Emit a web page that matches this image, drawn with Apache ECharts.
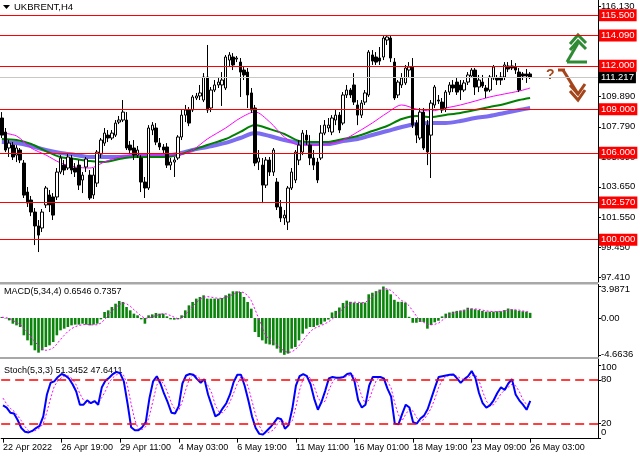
<!DOCTYPE html>
<html><head><meta charset="utf-8">
<script src="https://cdn.jsdelivr.net/npm/echarts@6/dist/echarts.min.js"></script>
<style>html,body{margin:0;padding:0;background:#fff}#c{width:640px;height:457px}</style>
</head><body><div id="c"></div>
<script>
const symbolName = 'UKBRENT,H4';
// [open, close, low, high]
const candles = [
[108.40,107.22,107.02,108.81],[107.43,106.19,106.05,107.71],[106.33,106.67,105.71,106.88],[106.53,105.71,105.50,106.74],[105.84,106.33,105.36,106.53],
[106.19,105.50,105.29,106.33],[105.29,103.08,102.88,105.50],[103.29,102.53,102.26,103.64],[102.74,101.91,101.63,103.02],[101.91,100.95,99.63,102.19],
[100.95,100.32,99.15,101.36],[100.81,101.91,100.53,102.12],[102.40,103.57,102.19,103.71],[103.09,102.40,101.91,103.43],[102.95,101.70,101.36,103.22],
[102.95,104.67,102.74,104.95],[104.67,105.64,104.53,105.84],[105.15,104.81,104.46,105.50],[104.95,105.71,104.81,105.98],[105.64,104.81,104.53,105.84],
[104.95,104.67,104.33,105.29],[105.15,103.77,103.43,105.50],[104.12,104.46,103.22,104.67],[105.02,105.57,104.67,105.71],[104.46,102.88,102.74,104.81],
[103.09,104.46,102.81,104.95],[103.91,106.05,103.64,106.19],[105.91,106.88,105.64,107.02],[106.67,107.36,106.47,107.71],[107.22,107.02,106.74,107.57],
[107.02,107.36,106.88,107.57],[107.22,108.05,107.09,108.26],[108.12,108.26,107.98,108.54],[108.26,108.81,108.12,109.64],[108.26,106.33,106.19,108.81],
[106.53,106.19,105.91,106.81],[106.33,105.84,105.50,106.88],[105.84,106.19,105.64,106.47],[105.64,103.98,103.29,105.84],[103.98,103.57,102.88,104.33],
[103.57,107.71,103.43,107.91],[107.57,107.91,107.22,108.12],[107.71,106.74,106.53,108.05],[106.67,106.40,106.19,107.02],[106.40,106.19,105.98,106.60],
[106.40,105.15,104.95,106.67],[105.15,105.36,104.81,105.64],[105.36,105.50,104.33,105.71],[105.64,107.09,105.50,107.22],[107.09,108.60,106.88,108.95],
[108.60,108.95,108.12,109.30],[108.95,108.05,107.84,109.16],[108.95,109.85,108.81,109.99],[109.78,109.92,109.64,110.13],[109.92,110.13,109.64,110.68],
[109.64,111.23,109.50,111.50],[111.23,108.95,108.75,113.44],[109.09,110.33,108.81,110.54],[110.33,110.68,110.19,111.02],[110.68,110.88,110.47,111.16],
[110.68,111.02,109.23,111.57],[110.47,112.61,110.33,112.75],[112.40,112.75,111.92,112.95],[112.61,112.06,111.71,112.88],[112.47,112.54,112.26,112.68],
[112.26,111.57,109.85,112.54],[111.71,111.37,111.02,111.99],[111.57,109.99,109.09,111.85],[110.13,108.95,108.75,110.47],[109.09,105.29,105.08,109.30],
[105.36,105.64,104.81,106.19],[105.15,103.77,102.53,105.64],[103.77,105.50,103.57,105.71],[105.50,104.67,104.40,105.71],[104.67,106.19,104.40,106.33],
[103.98,102.26,102.05,104.26],[102.26,101.50,101.22,102.74],[101.50,101.70,101.02,102.05],[101.22,103.57,100.67,103.71],[103.57,104.67,103.43,104.95],
[104.12,106.05,103.91,106.19],[105.50,106.53,105.15,106.88],[106.05,107.36,105.84,107.57],[107.22,106.88,106.53,107.57],[106.53,105.64,105.15,107.22],
[105.64,105.15,104.81,106.19],[105.36,104.12,103.91,105.64],[105.64,107.36,105.50,107.91],[107.36,107.91,107.22,108.26],[107.71,107.91,107.43,108.40],
[107.43,108.40,107.22,108.60],[108.26,108.60,107.91,108.95],[108.60,107.57,107.36,108.81],[108.05,109.99,107.91,110.19],[109.99,110.33,109.78,110.68],
[110.33,109.99,109.78,110.47],[110.68,109.50,109.30,111.50],[109.30,108.60,107.91,109.64],[108.60,109.43,108.40,109.64],[109.50,110.13,109.30,110.33],
[109.99,112.95,109.85,113.09],[112.75,112.33,112.06,113.09],[112.61,112.26,112.06,112.95],[112.54,112.33,112.06,113.30],[112.61,113.92,112.40,114.06],
[113.78,113.99,113.44,114.13],[113.92,112.54,112.26,114.06],[112.26,109.78,109.64,112.54],[109.99,110.88,109.78,111.02],[110.68,111.16,110.47,111.50],
[110.82,111.85,110.68,112.06],[111.71,111.92,111.16,112.26],[111.92,107.91,107.71,112.54],[108.05,107.22,106.67,108.26],[107.02,108.81,106.88,109.09],
[108.81,106.33,106.19,109.09],[107.91,106.05,105.15,108.26],[107.22,109.43,104.26,109.64],[109.30,110.54,109.09,110.68],[109.64,109.57,109.37,109.99],
[109.50,108.95,108.75,109.78],[109.09,110.19,108.81,110.33],[110.19,110.68,109.99,110.88],[110.68,110.47,110.19,111.02],[110.88,110.19,109.99,111.16],
[110.68,110.33,109.64,111.02],[110.33,110.82,110.19,111.02],[110.88,111.37,110.68,111.57],[111.30,111.71,111.16,111.85],[111.71,110.54,109.99,111.85],
[110.54,111.02,110.19,111.37],[110.88,110.61,110.47,111.37],[110.47,110.26,109.78,110.68],[110.33,111.23,110.19,111.37],[111.16,111.92,111.02,112.06],
[111.16,111.02,110.68,111.37],[111.23,111.02,110.68,111.57],[111.23,112.06,111.02,112.26],[111.99,111.78,111.57,112.26],[111.99,111.85,111.71,112.40],
[111.92,111.71,111.44,112.19],[111.57,110.33,110.19,111.85],[111.44,111.30,111.02,111.57],[111.44,111.30,110.82,111.78],[111.44,111.22,111.09,111.57]
];
// moving averages read at sampled bars
const maBars = [0,4,8,12,16,20,24,28,32,36,40,44,48,52,56,61,65,69,73,77,81,85,89,93,97,101,105,109,113,117,121,125,129,133,137,141,144];
const maFast = [107.37,107.16,106.33,105.85,105.30,105.02,104.95,105.37,105.71,105.85,105.85,105.85,105.85,106.19,106.95,107.71,108.40,108.82,108.13,107.09,106.54,106.54,106.61,106.88,107.44,108.06,108.75,109.30,109.02,108.89,109.09,109.30,109.57,109.85,110.06,110.26,110.47];
const maMid = [106.95,106.88,106.61,106.12,105.71,105.57,105.43,105.37,105.57,105.71,105.71,105.71,105.85,106.19,106.54,106.95,107.44,107.92,107.64,107.30,106.81,106.75,106.75,106.95,107.16,107.50,107.85,108.33,108.54,108.47,108.61,108.75,108.95,109.16,109.37,109.64,109.78];
const maSlow = [106.75,106.68,106.47,106.19,105.99,105.85,105.71,105.71,105.71,105.78,105.78,105.78,105.92,106.19,106.40,106.68,107.02,107.37,107.16,106.88,106.68,106.61,106.61,106.81,106.95,107.23,107.50,107.78,107.99,108.06,108.06,108.19,108.40,108.54,108.75,108.95,109.09];
const levels = [115.5, 114.09, 112.0, 109.0, 106.0, 102.57, 100.0];
const lastPrice = 111.217;
const priceTicks = [116.13, 114.09, 112.05, 109.89, 107.79, 105.69, 103.65, 101.55, 99.45, 97.41];

const macdHist = [
0.13,-0.05,-0.30,-0.72,-0.93,-1.14,-2.19,-2.83,-3.46,-4.09,
-4.39,-4.09,-3.67,-3.46,-3.04,-2.19,-1.56,-1.35,-1.14,-0.93,
-0.84,-0.84,-0.72,-0.84,-0.93,-0.84,-0.72,-0.17,0.76,0.97,
1.39,1.81,2.15,2.03,1.39,0.97,0.55,0.34,-0.17,-0.72,
0.34,0.46,0.63,0.55,0.55,0.21,-0.17,-0.21,-0.17,0.34,
0.97,1.60,2.03,2.45,2.66,2.87,2.45,2.45,2.45,2.45,
2.53,2.87,3.08,3.38,3.38,3.29,2.66,2.03,1.18,-1.77,
-2.41,-2.83,-3.25,-3.35,-3.46,-3.88,-4.39,-4.6636,-4.51,-3.88,
-3.67,-2.83,-1.98,-1.35,-1.14,-1.14,-0.93,-0.80,-0.45,-0.20,
0.70,0.90,1.33,1.90,2.20,2.05,1.95,1.90,1.95,1.95,
3.00,3.20,3.40,3.60,3.9871,3.60,3.00,2.30,2.05,2.05,
1.95,0.15,-0.60,-0.60,-0.50,-0.50,-1.35,-0.90,-0.55,-0.35,
0.20,0.55,0.70,0.80,0.90,0.95,1.05,1.30,1.20,1.10,
1.00,0.90,0.80,0.80,0.80,0.85,0.85,1.00,1.20,1.10,
1.00,0.90,0.85,0.80,0.6546];
const macdSignal = [
0.10,0.05,-0.05,-0.30,-0.55,-0.80,-1.30,-1.80,-2.40,-3.00,
-3.50,-3.90,-4.10,-4.00,-3.80,-3.30,-2.70,-2.20,-1.70,-1.35,
-1.10,-0.95,-0.85,-0.82,-0.85,-0.88,-0.85,-0.65,-0.20,0.35,
0.85,1.30,1.70,1.90,1.80,1.50,1.05,0.65,0.25,-0.05,
0.00,0.15,0.30,0.45,0.55,0.50,0.30,0.10,-0.10,0.00,
0.40,0.95,1.50,1.95,2.35,2.60,2.70,2.65,2.55,2.50,
2.50,2.60,2.75,3.00,3.20,3.35,3.20,2.85,2.20,1.10,
-0.05,-1.20,-2.30,-2.65,-3.00,-3.45,-3.85,-4.20,-4.35,-4.30,
-4.00,-3.50,-2.90,-2.30,-1.75,-1.35,-1.15,-0.95,-0.75,-0.50,
-0.15,0.25,0.70,1.20,1.60,1.90,2.00,2.00,1.95,1.95,
2.30,2.70,3.10,3.40,3.65,3.70,3.50,3.10,2.60,2.20,
2.00,1.55,0.90,0.25,-0.40,-0.55,-0.80,-0.85,-0.80,-0.65,
-0.30,0.05,0.35,0.60,0.75,0.85,0.95,1.10,1.15,1.15,
1.10,1.00,0.90,0.85,0.80,0.80,0.85,0.90,1.00,1.05,
1.05,1.00,0.90,0.80,0.7357];
const macdTicks = [3.9871, 0, -4.6636];

const stochK = [
45,42,35,34,25,14,9,8,10,14,
17,30,60,76,78,84,88,86,82,74,
64,46,46,52,48,51,46,70,79,83,
88,91,89,78,48,15,11,11,15,22,
55,78,85,75,61,49,35,34,44,75,
86,88,87,81,76,81,60,45,30,33,
41,48,60,77,87,87,72,52,30,14,
6,5,10,15,21,28,26,13,18,40,
72,85,88,85,74,54,39,50,65,82,
84,83,83,84,88,89,78,52,42,46,
72,84,84,84,82,68,57,20,19,33,
46,42,22,20,27,31,40,55,70,84,
85,86,87,87.5,82,76,81,85,92,83,
62,48,42,45,52,62,70,66,75,81,
60,52,46,39,51.3452];
const stochD = [
55,47,41,37,31,24,16,10,9,11,
14,20,36,55,71,79,83,86,85,81,
73,61,52,48,49,50,48,56,65,77,
83,87,89,86,72,47,25,12,12,16,
31,52,73,79,74,62,48,39,38,51,
68,83,87,85,81,79,72,62,45,36,
35,41,50,62,75,84,82,70,51,32,
17,8,7,9,12,20,25,22,19,24,
43,66,82,86,82,71,56,48,51,66,
77,83,83,83,85,87,85,73,57,47,
53,67,80,84,83,78,69,48,32,24,
33,40,37,28,23,26,33,42,55,70,
80,85,86,87,85,82,80,81,86,87,
79,64,51,45,46,53,61,66,70,74,
72,64,53,46,47.6411];
const stochTicks = [0, 80, 100, 20];
const stochLevels = [80, 20];

const timeLabels = ['22 Apr 2022','26 Apr 19:00','29 Apr 11:00','4 May 03:00','6 May 19:00','11 May 11:00','16 May 01:00','18 May 19:00','23 May 09:00','26 May 03:00'];
const labelStep = 16;
const slotCount = 163;

const FONT = '"Liberation Sans", Arial, sans-serif';
const categories = Array.from({length: slotCount}, (_, i) => String(i));
const isLabelSlot = (i) => i % labelStep === 0 && i / labelStep < timeLabels.length;

const chart = echarts.init(document.getElementById('c'), null, {renderer: 'canvas'});

function xAx(gi, show) {
  return {
    type: 'category', gridIndex: gi, data: categories, boundaryGap: true,
    axisLine: {show: show, onZero: false, lineStyle: {color: '#000', width: 1}},
    axisTick: {show: show, alignWithLabel: true, interval: (i) => isLabelSlot(i), length: 4, lineStyle: {color: '#000'}},
    axisLabel: {show: show, interval: (i) => isLabelSlot(i), align: 'left', margin: 4,
      formatter: (v, i) => isLabelSlot(i) ? timeLabels[i / labelStep] : '',
      color: '#000', fontSize: 9, fontFamily: FONT},
    splitLine: {show: false}
  };
}
function yAx(gi, min, max, ticks, fmt, rich) {
  return {
    type: 'value', gridIndex: gi, position: 'right', min: min, max: max,
    splitLine: {show: false},
    axisLine: {show: true, onZero: false, lineStyle: {color: '#000', width: 1}},
    axisTick: {show: true, customValues: ticks, length: 3, lineStyle: {color: '#000'}},
    axisLabel: {customValues: ticks, formatter: fmt, color: '#000', fontSize: 9.5, fontFamily: FONT, margin: 3,
      hideOverlap: false, rich: rich || {}}
  };
}

const levelLines = levels.map(v => ({
  yAxis: v,
  lineStyle: {color: '#ff0000', width: 1, type: 'solid'},
  label: {backgroundColor: '#ff0000', color: '#fff', formatter: v.toFixed(3)}
}));
levelLines.unshift({
  yAxis: lastPrice,
  lineStyle: {color: '#c8c8c8', width: 1, type: 'solid'},
  label: {backgroundColor: '#000', color: '#fff', formatter: lastPrice.toFixed(3)}
});

const option = {
  animation: false,
  backgroundColor: '#fff',
  grid: [
    {left: 0, top: 0, width: 598, height: 282},
    {left: 0, top: 284.5, width: 598, height: 72.5},
    {left: 0, top: 359, width: 598, height: 79.6}
  ],
  xAxis: [xAx(0, false), xAx(1, false), xAx(2, true)],
  yAxis: [
    yAx(0, 97.083, 116.544, priceTicks, v => v.toFixed(3)),
    yAx(1, -4.937, 4.2405, macdTicks, v => v === 0 ? '0.00' : (v > 0 ? '{t|' + v + '}' : String(v)),
      {t: {fontSize: 9.5, fontFamily: FONT, color: '#000', padding: [5, 0, 0, 0]}}),
    yAx(2, -0.5, 108.6, stochTicks, v => v === 100 ? '{t|100}' : (v === 0 ? '{b|0}' : String(v)),
      {t: {fontSize: 9.5, fontFamily: FONT, color: '#000', padding: [4, 0, 0, 0]},
       b: {fontSize: 9.5, fontFamily: FONT, color: '#000', padding: [0, 0, 12, 0]}})
  ],
  series: [
    {type: 'line', xAxisIndex: 0, yAxisIndex: 0, z: 2, data: maBars.map((b, j) => [b, maSlow[j]]),
      showSymbol: false, smooth: 0.3, lineStyle: {color: '#7b6cf0', width: 4}},
    {type: 'line', xAxisIndex: 0, yAxisIndex: 0, z: 2, data: maBars.map((b, j) => [b, maMid[j]]),
      showSymbol: false, smooth: 0.3, lineStyle: {color: '#008000', width: 2}},
    {type: 'line', xAxisIndex: 0, yAxisIndex: 0, z: 2, data: maBars.map((b, j) => [b, maFast[j]]),
      showSymbol: false, smooth: 0.3, lineStyle: {color: '#ff00ff', width: 1}},
    {type: 'candlestick', xAxisIndex: 0, yAxisIndex: 0, z: 3, data: candles, barWidth: 3,
      itemStyle: {color: '#ffffff', color0: '#000000', borderColor: '#000000', borderColor0: '#000000', borderWidth: 1},
      markLine: {silent: true, symbol: ['none', 'none'], animation: false,
        label: {show: true, position: 'end', distance: 1,
          fontSize: 9.5, fontFamily: FONT, padding: [1, 2, 0, 2], lineHeight: 11},
        data: levelLines}},
    {type: 'bar', xAxisIndex: 1, yAxisIndex: 1, data: macdHist, barWidth: 2.6,
      itemStyle: {color: '#0b840b'}},
    {type: 'line', xAxisIndex: 1, yAxisIndex: 1, data: macdSignal, showSymbol: false,
      lineStyle: {color: '#ff00ff', width: 1, type: [2, 2]}},
    {type: 'line', xAxisIndex: 2, yAxisIndex: 2, data: stochD, showSymbol: false,
      lineStyle: {color: '#ff00ff', width: 1, type: [2, 2]}},
    {type: 'line', xAxisIndex: 2, yAxisIndex: 2, data: stochK, showSymbol: false,
      lineStyle: {color: '#0000ff', width: 2},
      markLine: {silent: true, symbol: ['none', 'none'], label: {show: false},
        lineStyle: {color: '#ff0000', width: 1.5, type: [9, 5]},
        data: stochLevels.map(v => ({yAxis: v}))}}
  ],
  graphic: [
    {type: 'rect', silent: true, shape: {x: 0, y: 282, width: 598, height: 2.5}, style: {fill: '#a8a8a8'}},
    {type: 'rect', silent: true, shape: {x: 0, y: 357, width: 598, height: 2}, style: {fill: '#a8a8a8'}},
    {type: 'polygon', silent: true, shape: {points: [[3, 5], [10, 5], [6.5, 9]]}, style: {fill: '#000'}},
    {type: 'text', silent: true, x: 14, y: 7.5, style: {text: symbolName, fontSize: 9.5, fontFamily: FONT, fill: '#000', verticalAlign: 'middle'}},
    {type: 'text', silent: true, x: 4, y: 292, style: {text: 'MACD(5,34,4) ' + macdHist[macdHist.length - 1].toFixed(4) + ' ' + macdSignal[macdSignal.length - 1].toFixed(4), fontSize: 9, fontFamily: FONT, fill: '#000', verticalAlign: 'middle'}},
    {type: 'text', silent: true, x: 4, y: 371, style: {text: 'Stoch(5,3,3) ' + stochK[stochK.length - 1].toFixed(4) + ' ' + stochD[stochD.length - 1].toFixed(4), fontSize: 9, fontFamily: FONT, fill: '#000', verticalAlign: 'middle'}},
    // green up-signal sign
    {type: 'polyline', silent: true, shape: {points: [[567, 62], [587, 62]]}, style: {stroke: '#2f8a34', lineWidth: 3, fill: null}},
    {type: 'polyline', silent: true, shape: {points: [[567, 62], [578, 43]]}, style: {stroke: '#2f8a34', lineWidth: 3, fill: null}},
    {type: 'polyline', silent: true, shape: {points: [[570, 44], [578, 35], [586, 43]]}, style: {stroke: '#2f8a34', lineWidth: 3, fill: null}},
    {type: 'polyline', silent: true, shape: {points: [[570, 50], [578, 41], [586, 49]]}, style: {stroke: '#2f8a34', lineWidth: 3, fill: null}},
    // brown down-signal sign
    {type: 'text', silent: true, x: 546, y: 75, style: {text: '?', fontSize: 14, fontWeight: 'bold', fontFamily: FONT, fill: '#a5451b', verticalAlign: 'middle'}},
    {type: 'polyline', silent: true, shape: {points: [[558, 70], [565, 70]]}, style: {stroke: '#a5451b', lineWidth: 3, fill: null}},
    {type: 'polyline', silent: true, shape: {points: [[563, 70], [578, 94]]}, style: {stroke: '#a5451b', lineWidth: 3, fill: null}},
    {type: 'polyline', silent: true, shape: {points: [[570, 85], [578, 94], [585, 84]]}, style: {stroke: '#a5451b', lineWidth: 3, fill: null}},
    {type: 'polyline', silent: true, shape: {points: [[570, 91], [578, 100], [585, 90]]}, style: {stroke: '#a5451b', lineWidth: 3, fill: null}}
  ]
};
chart.setOption(option);
</script>
</body></html>
